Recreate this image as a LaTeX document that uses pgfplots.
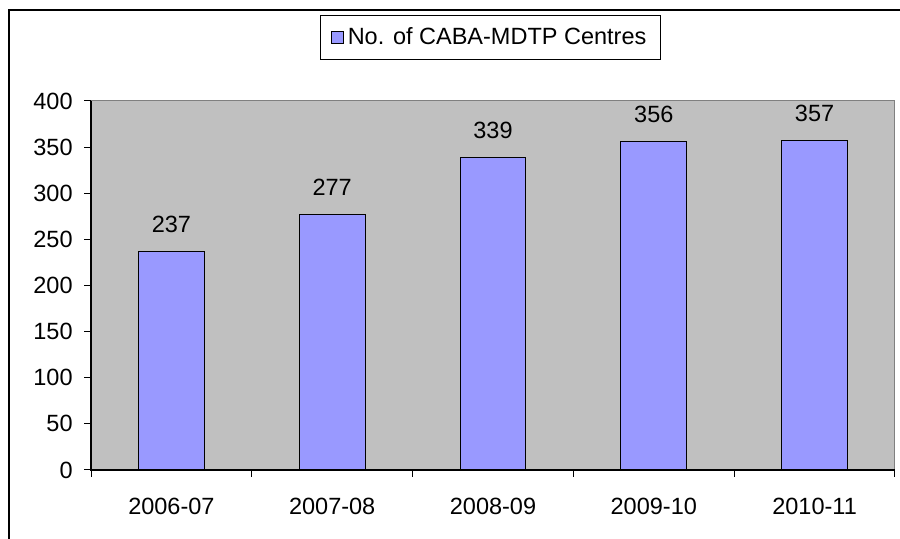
\documentclass[border=0pt]{standalone}
\usepackage{pgfplots}
\pgfplotsset{compat=1.18}
\usepackage{fontspec}
\setmainfont{Liberation Sans}
\definecolor{barblue}{HTML}{9999FF}
\definecolor{plotgray}{HTML}{C0C0C0}
\definecolor{edgegray}{HTML}{808080}
\newcommand{\lblfont}{\fontsize{11.75}{14}\selectfont}
\begin{document}
\begin{tikzpicture}
\useasboundingbox (0pt,0pt) rectangle (450pt,269.5pt);
\draw[line width=1.3pt] (4.5pt,-5pt) -- (4.5pt,264.5pt) -- (455pt,264.5pt);
\begin{axis}[
  name=ax,
  at={(45.5pt,34.5pt)}, anchor=south west,
  scale only axis, width=402pt, height=184.5pt,
  xmin=-0.5, xmax=4.5, ymin=0, ymax=400,
  ytick={0,50,...,400},
  xtick={0,1,2,3,4},
  xticklabels={2006-07,2007-08,2008-09,2009-10,2010-11},
  minor xtick={-0.5,0.5,1.5,2.5,3.5,4.5},
  xtick pos=bottom, ytick pos=left,
  tick align=outside,
  major tick length=3.5pt,
  minor tick length=3.5pt,
  major x tick style={draw=none},
  minor x tick style={draw=black, line width=0.5pt},
  major y tick style={draw=black, line width=0.5pt},
  axis background/.style={fill=plotgray},
  axis line style={draw=edgegray, line width=0.5pt},
  /pgf/number format/assume math mode=true,
  tick label style={font=\lblfont},
  yticklabel style={inner sep=0pt, xshift=-5.5pt},
  xticklabel style={inner sep=0pt, yshift=-10.5pt},
  ybar, bar width=32.8pt,
  nodes near coords,
  every node near coord/.append style={font=\lblfont, inner sep=0pt, yshift=9pt, text=black},
  legend style={at={(axis description cs:0.497,1.173)}, anchor=center, draw=black, line width=0.5pt,
    font=\lblfont, inner xsep=5pt, inner ysep=4pt, fill=white},
  legend image code/.code={\draw[fill=barblue,draw=black,line width=0.5pt] (0pt,-3pt) rectangle (6pt,3pt);},
]
\addplot[fill=barblue, draw=black, line width=0.5pt] coordinates {(0,237) (1,277) (2,339) (3,356) (4,357)};
\addlegendentry{No. of CABA-MDTP Centres}
\end{axis}
\draw[black, line width=0.6pt] (ax.north west) -- (ax.south west) -- (ax.south east);
\end{tikzpicture}
\end{document}
